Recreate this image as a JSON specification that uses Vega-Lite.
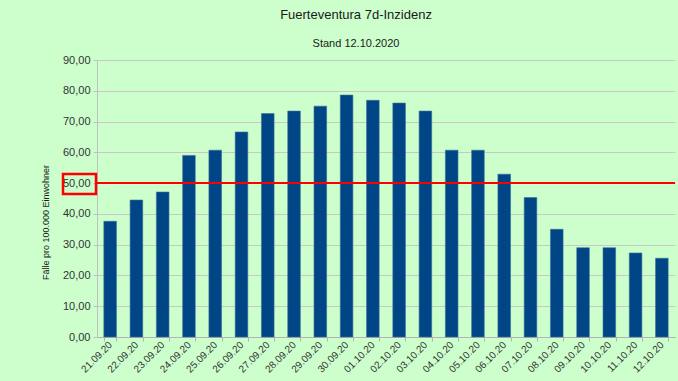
{
  "$schema": "https://vega.github.io/schema/vega-lite/v6.json",
  "width": 578,
  "height": 277,
  "autosize": {"type": "none"},
  "padding": {"left": 97, "top": 60, "right": 3, "bottom": 44},
  "background": "#ccffcc",
  "title": {
    "text": "Fuerteventura 7d-Inzidenz",
    "subtitle": "Stand 12.10.2020",
    "anchor": "middle",
    "dx": -30,
    "font": "Liberation Sans",
    "fontSize": 13,
    "fontWeight": "normal",
    "color": "#1a1a1a",
    "subtitleFont": "Liberation Sans",
    "subtitleFontSize": 11,
    "subtitleColor": "#1a1a1a",
    "subtitlePadding": 16,
    "offset": 5
  },
  "datasets": {
    "bars": [
      {"datum": "21.09.20", "value": 37.6},
      {"datum": "22.09.20", "value": 44.5},
      {"datum": "23.09.20", "value": 47.1},
      {"datum": "24.09.20", "value": 59.0},
      {"datum": "25.09.20", "value": 60.7},
      {"datum": "26.09.20", "value": 66.6},
      {"datum": "27.09.20", "value": 72.6},
      {"datum": "28.09.20", "value": 73.4},
      {"datum": "29.09.20", "value": 75.0},
      {"datum": "30.09.20", "value": 78.6},
      {"datum": "01.10.20", "value": 76.9},
      {"datum": "02.10.20", "value": 76.0},
      {"datum": "03.10.20", "value": 73.4},
      {"datum": "04.10.20", "value": 60.7},
      {"datum": "05.10.20", "value": 60.7},
      {"datum": "06.10.20", "value": 52.9},
      {"datum": "07.10.20", "value": 45.3},
      {"datum": "08.10.20", "value": 35.0},
      {"datum": "09.10.20", "value": 29.0},
      {"datum": "10.10.20", "value": 29.0},
      {"datum": "11.10.20", "value": 27.3},
      {"datum": "12.10.20", "value": 25.6}
    ],
    "limit": [{"grenze": 50, "lo": 46.5, "hi": 53.0}]
  },
  "layer": [
    {
      "data": {"name": "bars"},
      "mark": {"type": "bar", "color": "#004586", "stroke": "#3a6fa0", "strokeWidth": 0.6},
      "encoding": {
        "x": {
          "field": "datum",
          "type": "ordinal",
          "sort": null,
          "title": null,
          "scale": {"paddingInner": 0.52, "paddingOuter": 0.26},
          "axis": {
            "labelAngle": -45,
            "labelAlign": "right",
            "labelBaseline": "middle",
            "labelFont": "Liberation Sans",
            "labelFontSize": 10,
            "labelColor": "#333333",
            "labelPadding": 2,
            "labelOverlap": false,
            "tickBand": "extent",
            "tickSize": 4,
            "tickColor": "#b3b3b3",
            "domainColor": "#b3b3b3",
            "grid": false
          }
        },
        "y": {
          "field": "value",
          "type": "quantitative",
          "scale": {"domain": [0, 90], "nice": false},
          "title": "Fälle pro 100.000 Einwohner"
        }
      }
    },
    {
      "data": {"name": "limit"},
      "mark": {"type": "rule", "color": "#ff0000", "strokeWidth": 2},
      "encoding": {"y": {"field": "grenze", "type": "quantitative"}}
    },
    {
      "data": {"name": "limit"},
      "mark": {"type": "rect", "fill": null, "fillOpacity": 0, "stroke": "#ff0000", "strokeWidth": 2.5, "clip": false},
      "encoding": {
        "y": {"field": "lo", "type": "quantitative"},
        "y2": {"field": "hi"},
        "x": {"value": -34},
        "x2": {"value": -1}
      }
    }
  ],
  "config": {
    "view": {"stroke": null},
    "axisY": {
      "values": [0, 10, 20, 30, 40, 50, 60, 70, 80, 90],
      "tickCount": 10,
      "format": ".2f",
      "labelOverlap": false,
      "labelFont": "Liberation Sans",
      "labelFontSize": 11,
      "labelColor": "#333333",
      "labelPadding": 3,
      "tickSize": 4,
      "tickColor": "#c0c0c0",
      "domainColor": "#c0c0c0",
      "gridColor": "#c8c8c8",
      "gridWidth": 1,
      "titleFont": "Liberation Sans",
      "titleFontSize": 9,
      "titleFontWeight": "normal",
      "titleColor": "#1a1a1a",
      "titleX": -52,
      "titleY": 162,
      "titleAlign": "center",
      "titleBaseline": "middle"
    },
    "locale": {
      "number": {"decimal": ",", "thousands": ".", "grouping": [3], "currency": ["", " €"]}
    }
  }
}
